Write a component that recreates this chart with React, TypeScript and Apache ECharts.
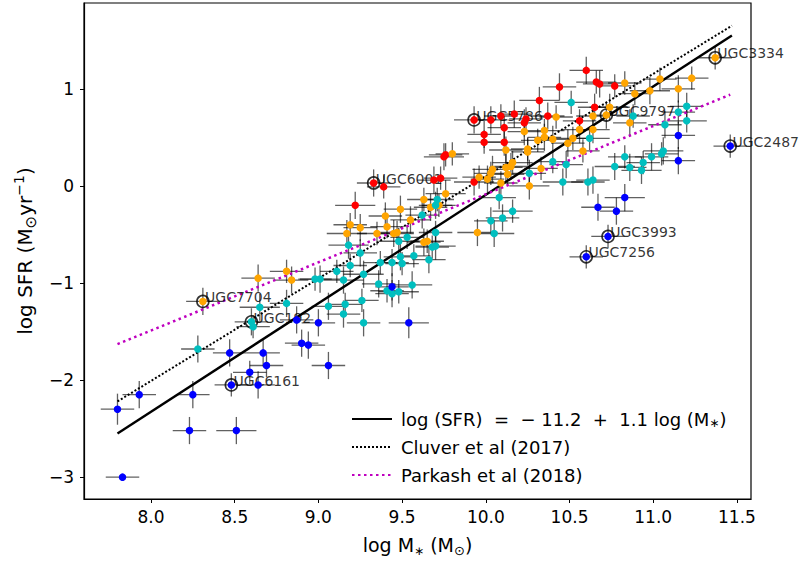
import React, { useEffect, useRef } from "react";
import * as echarts from "echarts";

type Pt = [number, number, number, number]; // logM, logSFR, xerr, yerr

const redPoints: Pt[] = [
  [9.33, 0.03, 0.1, 0.14], [9.39, -0.01, 0.1, 0.12], [9.22, -0.2, 0.12, 0.14], [9.69, 0.06, 0.1, 0.14],
  [9.73, 0.08, 0.1, 0.12], [9.75, 0.3, 0.12, 0.14], [9.76, 0.32, 0.1, 0.12], [9.93, 0.68, 0.12, 0.14],
  [10.03, 0.68, 0.1, 0.14], [10.09, 0.72, 0.1, 0.12], [10.17, 0.74, 0.1, 0.14], [10.24, 0.69, 0.1, 0.12],
  [10.23, 0.65, 0.1, 0.14], [10.11, 0.6, 0.1, 0.12], [9.99, 0.53, 0.1, 0.14], [9.99, 0.45, 0.1, 0.12],
  [10.11, 0.45, 0.12, 0.14], [10.32, 0.88, 0.12, 0.14], [10.44, 1.02, 0.1, 0.14], [10.6, 1.19, 0.1, 0.14],
  [10.66, 1.07, 0.12, 0.12], [10.68, 1.05, 0.1, 0.14], [10.77, 1.03, 0.1, 0.12], [10.37, 0.72, 0.1, 0.14],
  [10.56, 0.67, 0.1, 0.12], [10.65, 0.81, 0.1, 0.14], [9.93, 0.04, 0.12, 0.14],
];

const orangePoints: Pt[] = [
  [8.31, -1.19, 0.1, 0.14], [8.64, -0.95, 0.1, 0.14], [8.81, -0.88, 0.1, 0.12], [8.84, -0.97, 0.1, 0.14],
  [9.17, -0.49, 0.12, 0.14], [9.19, -0.4, 0.1, 0.12], [9.25, -0.43, 0.1, 0.14], [9.35, -0.49, 0.12, 0.12],
  [9.4, -0.31, 0.1, 0.14], [9.41, -0.42, 0.1, 0.12], [9.45, -0.49, 0.12, 0.14], [9.47, -0.48, 0.1, 0.12],
  [9.49, -0.24, 0.1, 0.14], [9.55, -0.35, 0.12, 0.14], [9.63, -0.14, 0.1, 0.12], [9.67, -0.22, 0.1, 0.14],
  [9.72, -0.2, 0.1, 0.12], [9.63, -0.58, 0.1, 0.14], [9.65, -0.57, 0.1, 0.12], [9.76, -0.08, 0.12, 0.14],
  [9.8, 0.33, 0.1, 0.12], [9.95, -0.48, 0.12, 0.14], [9.96, 0.09, 0.1, 0.12], [10.01, 0.07, 0.1, 0.14],
  [10.03, 0.13, 0.1, 0.12], [10.04, 0.17, 0.12, 0.14], [10.09, 0.03, 0.1, 0.12], [10.12, 0.19, 0.1, 0.14],
  [10.13, 0.12, 0.1, 0.12], [10.15, 0.2, 0.1, 0.14], [10.16, 0.24, 0.12, 0.12], [10.12, 0.37, 0.1, 0.14],
  [10.25, 0.38, 0.1, 0.12], [10.25, 0.35, 0.1, 0.14], [10.26, 0.0, 0.12, 0.14], [10.33, 0.18, 0.1, 0.12],
  [10.23, 0.56, 0.1, 0.14], [10.31, 0.47, 0.1, 0.12], [10.35, 0.5, 0.1, 0.14], [10.35, 0.57, 0.12, 0.12],
  [10.4, 0.48, 0.1, 0.14], [10.42, 0.71, 0.1, 0.12], [10.49, 0.44, 0.1, 0.14], [10.52, 0.49, 0.12, 0.12],
  [10.56, 0.58, 0.1, 0.14], [10.58, 0.36, 0.1, 0.12], [10.64, 0.58, 0.1, 0.14], [10.64, 0.72, 0.1, 0.12],
  [10.72, 0.73, 0.1, 0.14], [10.74, 0.81, 0.12, 0.14], [10.83, 1.06, 0.1, 0.12], [10.86, 0.65, 0.1, 0.14],
  [10.89, 0.95, 0.1, 0.12], [10.98, 0.98, 0.12, 0.14], [11.04, 1.1, 0.1, 0.12], [11.15, 1.0, 0.1, 0.14],
  [11.23, 1.11, 0.1, 0.12], [11.37, 1.32, 0.1, 0.12],
];

const cyanPoints: Pt[] = [
  [8.28, -1.68, 0.1, 0.14], [8.6, -1.4, 0.1, 0.14], [8.61, -1.45, 0.1, 0.12], [8.65, -1.25, 0.12, 0.14],
  [8.81, -1.21, 0.1, 0.14], [8.98, -0.96, 0.1, 0.12], [9.01, -0.96, 0.12, 0.14], [9.06, -1.24, 0.1, 0.14],
  [9.11, -0.88, 0.1, 0.12], [9.15, -0.97, 0.12, 0.14], [9.15, -1.32, 0.1, 0.14], [9.16, -1.22, 0.1, 0.12],
  [9.18, -0.61, 0.12, 0.14], [9.19, -0.82, 0.1, 0.12], [9.25, -0.69, 0.1, 0.14], [9.26, -1.18, 0.1, 0.12],
  [9.27, -0.91, 0.12, 0.14], [9.27, -1.41, 0.1, 0.14], [9.37, -0.79, 0.1, 0.12], [9.36, -1.01, 0.1, 0.14],
  [9.41, -1.08, 0.1, 0.12], [9.44, -1.11, 0.1, 0.14], [9.48, -1.09, 0.12, 0.12], [9.44, -0.79, 0.1, 0.14],
  [9.5, -0.8, 0.1, 0.12], [9.48, -0.57, 0.12, 0.14], [9.53, -0.53, 0.1, 0.12], [9.49, -0.73, 0.1, 0.14],
  [9.56, -1.02, 0.12, 0.14], [9.57, -0.72, 0.1, 0.12], [9.62, -0.3, 0.1, 0.14], [9.66, -0.76, 0.1, 0.14],
  [9.68, -0.63, 0.1, 0.12], [9.7, -0.62, 0.12, 0.14], [9.7, -0.48, 0.1, 0.12], [9.7, -0.2, 0.1, 0.14],
  [9.71, -0.14, 0.1, 0.12], [10.03, -0.36, 0.1, 0.14], [10.05, -0.49, 0.12, 0.14], [10.08, -0.12, 0.1, 0.12],
  [10.1, -0.33, 0.1, 0.14], [10.16, -0.26, 0.12, 0.12], [10.26, 0.13, 0.1, 0.14], [10.4, 0.25, 0.1, 0.12],
  [10.46, 0.04, 0.12, 0.14], [10.48, 0.22, 0.1, 0.14], [10.51, 0.86, 0.1, 0.12], [10.61, 0.04, 0.1, 0.14],
  [10.62, 0.49, 0.12, 0.12], [10.64, 0.06, 0.1, 0.14], [10.77, 0.2, 0.12, 0.14], [10.83, 0.3, 0.1, 0.12],
  [10.86, 0.19, 0.1, 0.14], [10.88, 0.72, 0.1, 0.12], [10.93, 0.16, 0.12, 0.14], [10.94, 0.24, 0.1, 0.12],
  [10.99, 0.3, 0.1, 0.14], [11.05, 0.33, 0.1, 0.12], [11.06, 0.36, 0.12, 0.14], [11.07, 0.63, 0.1, 0.14],
  [11.15, 0.76, 0.1, 0.12], [11.2, 0.82, 0.1, 0.14], [11.2, 0.67, 0.12, 0.12],
];

const bluePoints: Pt[] = [
  [7.8, -2.3, 0.1, 0.16], [7.83, -3.0, 0.1, 0], [7.93, -2.15, 0.1, 0.14], [8.23, -2.52, 0.1, 0.14],
  [8.25, -2.15, 0.1, 0.14], [8.47, -1.72, 0.1, 0.14], [8.48, -2.05, 0.1, 0.12], [8.51, -2.52, 0.12, 0.14],
  [8.59, -1.92, 0.1, 0.12], [8.64, -2.05, 0.1, 0.14], [8.67, -1.72, 0.1, 0.14], [8.69, -1.85, 0.1, 0.12],
  [8.87, -1.38, 0.1, 0.14], [8.9, -1.62, 0.1, 0.14], [8.94, -1.64, 0.1, 0.14], [9.0, -1.41, 0.1, 0.14],
  [9.06, -1.85, 0.1, 0.14], [9.44, -1.04, 0.1, 0.14], [9.54, -1.41, 0.12, 0.16], [10.6, -0.73, 0.1, 0.12],
  [10.67, -0.22, 0.1, 0.14], [10.73, -0.52, 0.1, 0.12], [10.78, -0.26, 0.1, 0.14], [10.83, -0.12, 0.12, 0.14],
  [11.15, 0.52, 0.1, 0.14], [11.15, 0.26, 0.1, 0.14], [11.46, 0.41, 0.1, 0.12],
];

const labelNames = ["UGC6001", "UGC5786", "UGC9797", "UGC3334", "UGC2487", "UGC3993", "UGC7256", "UGC7704", "UGC192", "UGC6161"];
const labelX = [9.33, 9.93, 10.72, 11.37, 11.46, 10.73, 10.6, 8.31, 8.6, 8.48];
const labelY = [0.03, 0.68, 0.73, 1.32, 0.41, -0.52, -0.73, -1.19, -1.4, -2.05];

const fitX = [7.8, 11.47];
const fitY = [-2.55, 1.55];
const cluverX = [7.8, 11.47];
const cluverY = [-2.22, 1.65];
const parkashX = [7.8, 11.46];
const parkashY = [-1.63, 0.94];

const xTicks = [8, 8.5, 9, 9.5, 10, 10.5, 11, 11.5];
const yTicks = [-3, -2, -1, 0, 1];

const FIT_NAME = "log (SFR) = −11.2 + 1.1 log (M∗)";
const CLUVER_NAME = "Cluver et al (2017)";
const PARKASH_NAME = "Parkash et al (2018)";

const FONT = "DejaVu Sans";

export default function App() {
  const ref = useRef<HTMLDivElement>(null);
  useEffect(() => {
    if (!ref.current) return;
    const chart = echarts.init(ref.current, undefined, { renderer: "svg" });
    const allPts = [...redPoints, ...orangePoints, ...cyanPoints, ...bluePoints];
    const errStyle = { stroke: "rgba(0,0,0,0.62)", lineWidth: 1.3 };
    const scatter = (data: Pt[], color: string) => ({
      type: "scatter",
      data: data.map((p) => [p[0], p[1]]),
      symbolSize: 7.5,
      itemStyle: { color, opacity: 1 },
      z: 5,
      silent: true,
    });
    const option: any = {
      animation: false,
      backgroundColor: "#fff",
      textStyle: { fontFamily: FONT },
      grid: { left: 84, right: 54, top: 3, bottom: 67, show: true, borderColor: "#000", borderWidth: 1.2, backgroundColor: "transparent" },
      xAxis: {
        type: "value",
        min: 7.6,
        max: 11.584,
        axisLine: { show: true, onZero: false, lineStyle: { color: "#000", width: 1.2 } },
        axisTick: { show: true, length: 4, lineStyle: { color: "#000" }, customValues: xTicks },
        axisLabel: { color: "#000", fontSize: 17, fontFamily: FONT, margin: 9, customValues: xTicks, formatter: (v: number) => v.toFixed(1) },
        splitLine: { show: false },
        name: "log M{s|∗} (M{o|⊙})",
        nameLocation: "middle",
        nameGap: 34,
        nameTextStyle: {
          color: "#000", fontSize: 19, fontFamily: FONT, lineHeight: 24,
          rich: {
            s: { fontSize: 12, fontFamily: FONT, color: "#000", verticalAlign: "bottom", lineHeight: 16 },
            o: { fontSize: 13, fontFamily: FONT, color: "#000", verticalAlign: "bottom", lineHeight: 16 },
          },
        },
      },
      yAxis: {
        type: "value",
        min: -3.225,
        max: 1.884,
        axisLine: { show: true, onZero: false, lineStyle: { color: "#000", width: 1.2 } },
        axisTick: { show: true, length: 4, lineStyle: { color: "#000" }, customValues: yTicks },
        axisLabel: { color: "#000", fontSize: 17, fontFamily: FONT, margin: 10, customValues: yTicks, formatter: (v: number) => (v < 0 ? "−" + Math.abs(v) : String(v)) },
        splitLine: { show: false },
        name: "log SFR (M{o|⊙}yr{p|−1})",
        nameLocation: "middle",
        nameGap: 44,
        nameTextStyle: {
          color: "#000", fontSize: 20, fontFamily: FONT, lineHeight: 26,
          rich: {
            o: { fontSize: 15, fontFamily: FONT, color: "#000", verticalAlign: "bottom", lineHeight: 19 },
            p: { fontSize: 14, fontFamily: FONT, color: "#000", verticalAlign: "top", lineHeight: 14 },
          },
        },
      },
      legend: {
        data: [FIT_NAME, CLUVER_NAME, PARKASH_NAME],
        orient: "vertical",
        left: 346,
        top: 404,
        itemWidth: 40,
        itemHeight: 18,
        itemGap: 8,
        selectedMode: false,
        itemStyle: { color: "rgba(0,0,0,0)", borderColor: "rgba(0,0,0,0)", borderWidth: 0, opacity: 0 },
        textStyle: {
          color: "#000", fontSize: 18, fontFamily: FONT, lineHeight: 20,
          rich: {
            t: { fontSize: 18, fontFamily: FONT, color: "#000", lineHeight: 20, padding: [0, 0, 0, 4] },
            u: { fontSize: 18, fontFamily: FONT, color: "#000", lineHeight: 20 },
            s: { fontSize: 12, fontFamily: FONT, color: "#000", verticalAlign: "bottom", lineHeight: 16 },
          },
        },
        formatter: (name: string) =>
          name === FIT_NAME ? "{t|log (SFR)  =  − 11.2  +  1.1 log (M}{s|∗}{u|)}" : "{t|" + name + "}",
      },
      series: [
        {
          type: "custom",
          silent: true,
          z: 1,
          data: allPts,
          encode: { x: 0, y: 1 },
          renderItem: (params: any, api: any) => {
            const x = api.value(0), y = api.value(1), xe = api.value(2), ye = api.value(3);
            const l = api.coord([x - xe, y]);
            const r = api.coord([x + xe, y]);
            const children: any[] = [
              { type: "line", shape: { x1: l[0], y1: l[1], x2: r[0], y2: r[1] }, style: errStyle },
            ];
            if (ye > 0) {
              const t = api.coord([x, y + ye]);
              const b = api.coord([x, y - ye]);
              children.push({ type: "line", shape: { x1: t[0], y1: t[1], x2: b[0], y2: b[1] }, style: errStyle });
            }
            return { type: "group", children };
          },
        },
        {
          name: FIT_NAME,
          type: "line",
          data: fitX.map((x, i) => [x, fitY[i]]),
          symbol: "none",
          z: 3,
          lineStyle: { color: "#000", width: 2.4, type: "solid" },
          itemStyle: { color: "#000" },
        },
        {
          name: CLUVER_NAME,
          type: "line",
          data: cluverX.map((x, i) => [x, cluverY[i]]),
          symbol: "none",
          z: 3,
          lineStyle: { color: "#000", width: 2, type: [2, 2] },
          itemStyle: { color: "#000" },
        },
        {
          name: PARKASH_NAME,
          type: "line",
          data: parkashX.map((x, i) => [x, parkashY[i]]),
          symbol: "none",
          z: 3,
          lineStyle: { color: "#bf00bf", width: 2.5, type: [2.5, 3.5] },
          itemStyle: { color: "#bf00bf" },
        },
        {
          type: "scatter",
          silent: true,
          z: 4,
          data: labelX.map((x, i) => [x, labelY[i], labelNames[i]]),
          symbolSize: 12,
          itemStyle: { color: "rgba(0,0,0,0)", borderColor: "#000", borderWidth: 1.6 },
          label: {
            show: true,
            formatter: (p: any) => p.value[2],
            position: [9, 9.5],
            align: "left",
            verticalAlign: "bottom",
            fontSize: 14,
            fontFamily: FONT,
            color: "#000",
          },
        },
        scatter(redPoints, "#ff0000"),
        scatter(orangePoints, "#ffa500"),
        scatter(cyanPoints, "#00bfbf"),
        scatter(bluePoints, "#0000ff"),
      ],
    };
    chart.setOption(option);
    return () => chart.dispose();
  }, []);
  return <div ref={ref} style={{ position: "absolute", left: 0, top: 0, width: 805, height: 566, background: "#fff" }} />;
}
